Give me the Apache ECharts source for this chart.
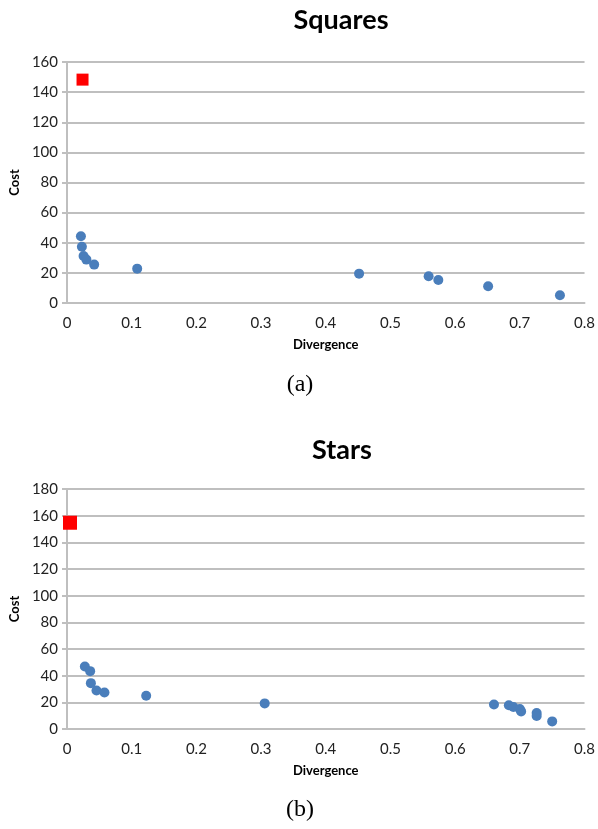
<!DOCTYPE html>
<html>
<head>
<meta charset="utf-8">
<script src="https://cdn.jsdelivr.net/npm/echarts@6/dist/echarts.min.js"></script>
<style>
  html, body { margin: 0; padding: 0; background: #fff; }
  #chart { width: 598px; height: 829px; }
</style>
</head>
<body>
<div id="chart"></div>
<script>
// (a) Squares
var squaresBlue = [
  [0.0215, 44.3], [0.023, 37.4], [0.0256, 31.2], [0.030, 28.8], [0.042, 25.5],
  [0.1085, 22.8], [0.4515, 19.5], [0.559, 17.7], [0.574, 15.3], [0.651, 11.1],
  [0.762, 5.1]
]
var squaresRed = [[0.024, 148.3]]

// (b) Stars
var starsBlue = [
  [0.0276, 46.9], [0.0358, 43.4], [0.0369, 34.4], [0.0456, 28.9], [0.0579, 27.4],
  [0.1224, 24.9], [0.3056, 19.2], [0.660, 18.4], [0.683, 17.8], [0.690, 16.5],
  [0.700, 15.0], [0.702, 13.2], [0.726, 12.0], [0.726, 9.8], [0.750, 5.7]
]
var starsRed = [[0.0046, 154.7]]

var yMaxA = 160
var yMaxB = 180

var font = 'Lato, "Open Sans", sans-serif'
var gridColor = '#bfbfbf'

function xAxisFor(idx) {
  return {
    gridIndex: idx, type: 'value', min: 0, max: 0.8, interval: 0.1,
    name: 'Divergence', nameLocation: 'middle', nameGap: 35,
    nameTextStyle: { fontFamily: font, fontWeight: 'bold', fontSize: 13, color: '#000' },
    axisLine: { lineStyle: { color: gridColor, width: 2 } },
    axisTick: { show: false },
    splitLine: { show: false },
    axisLabel: { fontFamily: font, fontSize: 15, color: '#222', margin: 13 }
  }
}

function yAxisFor(idx, max) {
  return {
    gridIndex: idx, type: 'value', min: 0, max: max, interval: 20,
    name: 'Cost', nameLocation: 'middle', nameGap: 33, nameRotate: 90,
    nameTextStyle: { fontFamily: font, fontWeight: 'bold', fontSize: 13, color: '#000' },
    axisLine: { show: true, lineStyle: { color: gridColor, width: 2 } },
    axisTick: { show: true, length: 5, lineStyle: { color: gridColor, width: 2 } },
    splitLine: { lineStyle: { color: gridColor, width: 2 } },
    axisLabel: { fontFamily: font, fontSize: 15, color: '#222', margin: 9 }
  }
}

var chart = echarts.init(document.getElementById('chart'))

chart.setOption({
  animation: false,
  backgroundColor: '#fff',
  title: [
    { text: 'Squares', left: 336, top: 2, textAlign: 'center',
      textStyle: { fontFamily: font, fontWeight: 'bold', fontSize: 27, color: '#000' } },
    { text: 'Stars', left: 337, top: 432, textAlign: 'center',
      textStyle: { fontFamily: font, fontWeight: 'bold', fontSize: 27, color: '#000' } },
    { text: '(a)', left: 295, top: 368, textAlign: 'center',
      textStyle: { fontFamily: '"Liberation Serif", "DejaVu Serif", serif', fontWeight: 'normal', fontSize: 24, color: '#000' } },
    { text: '(b)', left: 295, top: 793, textAlign: 'center',
      textStyle: { fontFamily: '"Liberation Serif", "DejaVu Serif", serif', fontWeight: 'normal', fontSize: 24, color: '#000' } }
  ],
  grid: [
    { left: 66, top: 62, width: 521, height: 241 },
    { left: 66, top: 489, width: 521, height: 240 }
  ],
  xAxis: [xAxisFor(0), xAxisFor(1)],
  yAxis: [yAxisFor(0, yMaxA), yAxisFor(1, yMaxB)],
  series: [
    { type: 'scatter', xAxisIndex: 0, yAxisIndex: 0, data: squaresBlue,
      symbol: 'circle', symbolSize: 10, itemStyle: { color: '#4a7ebb', opacity: 1 } },
    { type: 'scatter', xAxisIndex: 0, yAxisIndex: 0, data: squaresRed,
      symbol: 'rect', symbolSize: 12, itemStyle: { color: '#ff0000', opacity: 1 } },
    { type: 'scatter', xAxisIndex: 1, yAxisIndex: 1, data: starsBlue,
      symbol: 'circle', symbolSize: 10, itemStyle: { color: '#4a7ebb', opacity: 1 } },
    { type: 'scatter', xAxisIndex: 1, yAxisIndex: 1, data: starsRed,
      symbol: 'rect', symbolSize: 14, itemStyle: { color: '#ff0000', opacity: 1 } }
  ]
})
</script>
</body>
</html>
